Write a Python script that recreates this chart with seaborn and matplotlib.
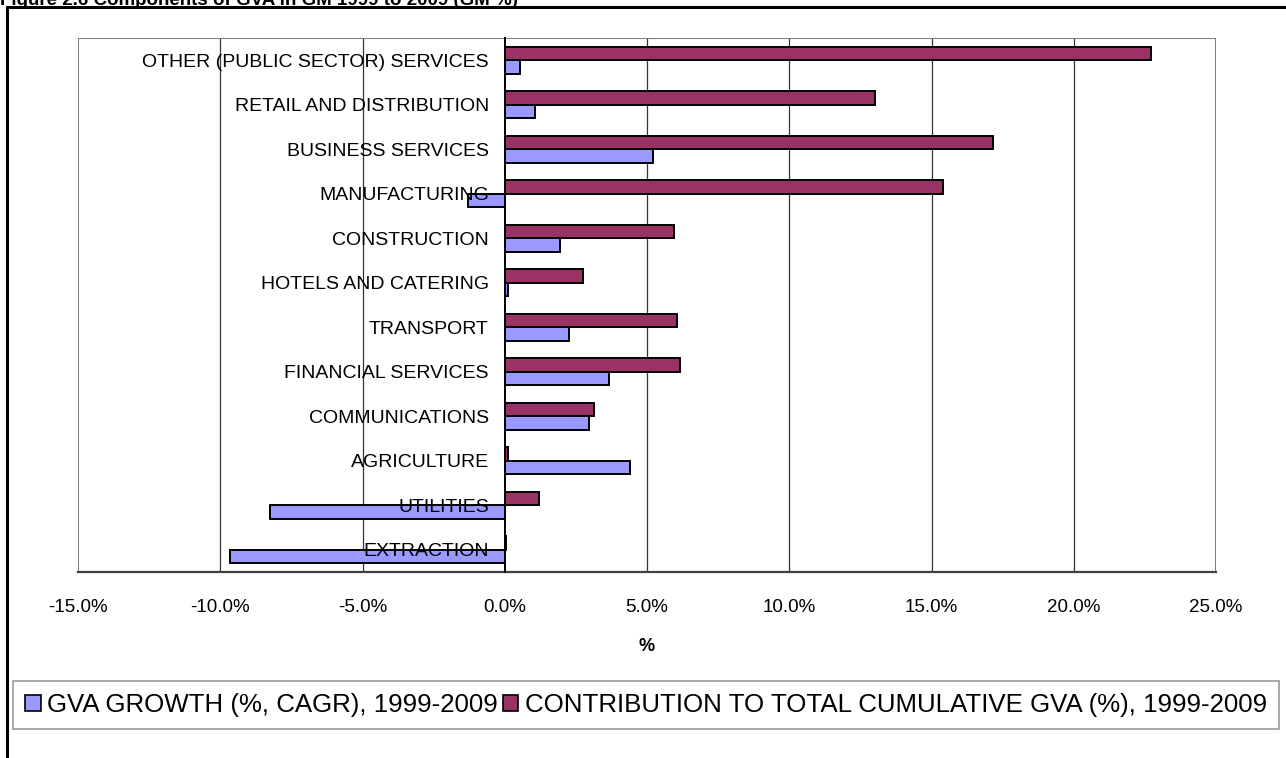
import numpy as np
import pandas as pd
import matplotlib
matplotlib.use("Agg")
import matplotlib.pyplot as plt
from matplotlib.patches import Patch
from matplotlib.lines import Line2D
from matplotlib.ticker import FuncFormatter
import seaborn as sns

# Sectors, top to bottom
sectors = [
    "OTHER (PUBLIC SECTOR) SERVICES",
    "RETAIL AND DISTRIBUTION",
    "BUSINESS SERVICES",
    "MANUFACTURING",
    "CONSTRUCTION",
    "HOTELS AND CATERING",
    "TRANSPORT",
    "FINANCIAL SERVICES",
    "COMMUNICATIONS",
    "AGRICULTURE",
    "UTILITIES",
    "EXTRACTION",
]

# GVA growth (%, CAGR), 1999-2009
growth = [0.55, 1.05, 5.2, -1.3, 1.95, 0.12, 2.25, 3.65, 2.95, 4.4, -8.25, -9.65]
# Contribution to total cumulative GVA (%), 1999-2009
contribution = [22.7, 13.0, 17.15, 15.4, 5.95, 2.75, 6.05, 6.15, 3.15, 0.12, 1.2, 0.05]

growth_label = "GVA GROWTH (%, CAGR), 1999-2009"
contrib_label = "CONTRIBUTION TO TOTAL CUMULATIVE GVA (%), 1999-2009"
x_ticks = [-15, -10, -5, 0, 5, 10, 15, 20, 25]

blue = "#9999FF"
purple = "#993366"

df = pd.DataFrame({
    "sector": sectors * 2,
    "value": contribution + growth,
    "series": [contrib_label] * len(sectors) + [growth_label] * len(sectors),
})

sns.set_style("white")
plt.rcParams["font.family"] = ["Liberation Sans", "DejaVu Sans"]
plt.rcParams["text.color"] = "black"
plt.rcParams["xtick.color"] = "black"
plt.rcParams["ytick.color"] = "black"
plt.rcParams["axes.labelcolor"] = "black"

fig = plt.figure(figsize=(12.86, 7.58), dpi=100)
ax = fig.add_axes([78 / 1286, 1 - 572 / 758, (1216 - 78) / 1286, (572 - 38) / 758])

sns.barplot(
    data=df, y="sector", x="value", hue="series",
    order=sectors, hue_order=[contrib_label, growth_label],
    palette=[purple, blue], saturation=1, orient="h", width=0.6,
    edgecolor="black", linewidth=1.4, legend=False, ax=ax, zorder=2,
)

ax.set_xlim(-15, 25)
ax.set_ylim(len(sectors) - 0.5, -0.5)
ax.set_xticks(x_ticks)
ax.xaxis.set_major_formatter(FuncFormatter(lambda v, p: f"{v:.1f}%"))

# vertical gridlines
for v in x_ticks[1:-1]:
    if v != 0:
        ax.axvline(v, color="#333333", lw=0.9, zorder=0)

# plot-area border
ax.axvline(-15, color="#808080", lw=1.5, zorder=1)
ax.axvline(25, color="#808080", lw=1.5, zorder=1)
ax.axhline(-0.5, color="#808080", lw=1.5, zorder=1)

for s in ["top", "right"]:
    ax.spines[s].set_visible(False)
ax.spines["left"].set_position(("data", 0))
ax.spines["left"].set_color("black")
ax.spines["left"].set_linewidth(1.4)
ax.spines["bottom"].set_color("#404040")
ax.spines["bottom"].set_linewidth(1.6)
ax.yaxis.set_zorder(5)
ax.spines["left"].set_zorder(5)

ax.set_yticks(np.arange(-0.5, len(sectors), 1), minor=True)
ax.tick_params(axis="y", which="major", length=0, pad=11.5, labelsize=14)
ax.tick_params(axis="y", which="minor", length=4.5, width=1, color="black", direction="out")
ax.tick_params(axis="x", which="major", length=4.5, width=1, color="black",
               direction="out", pad=15, labelsize=13.5)
ax.set_ylabel("")
ax.set_xlabel("%", fontsize=13, fontweight="bold", labelpad=16)

# figure frame and heading
fig.add_artist(Line2D([7 / 1286, 7 / 1286], [0, 1 - 7 / 758], color="black", lw=2.2,
                      transform=fig.transFigure))
fig.add_artist(Line2D([7 / 1286, 1], [1 - 7 / 758, 1 - 7 / 758], color="black", lw=2.2,
                      transform=fig.transFigure))
fig.text(0.0, 1 - 5 / 758, "Figure 2.6 Components of GVA in GM 1999 to 2009 (GM %)",
         fontsize=13.5, fontweight="bold", ha="left", va="baseline")

handles = [
    Patch(facecolor=blue, edgecolor="black", lw=1.2, label=growth_label),
    Patch(facecolor=purple, edgecolor="black", lw=1.2, label=contrib_label),
]
leg = fig.legend(
    handles=handles, loc="center", bbox_to_anchor=(646 / 1286, 1 - 705 / 758),
    ncol=2, fontsize=18.6, frameon=True, fancybox=False, edgecolor="#808080",
    handlelength=0.6, handleheight=0.6, handletextpad=0.25, columnspacing=0.2,
    borderpad=0.45, borderaxespad=0,
)
leg.get_frame().set_linewidth(1.2)

fig.savefig("out.png", dpi=100)
